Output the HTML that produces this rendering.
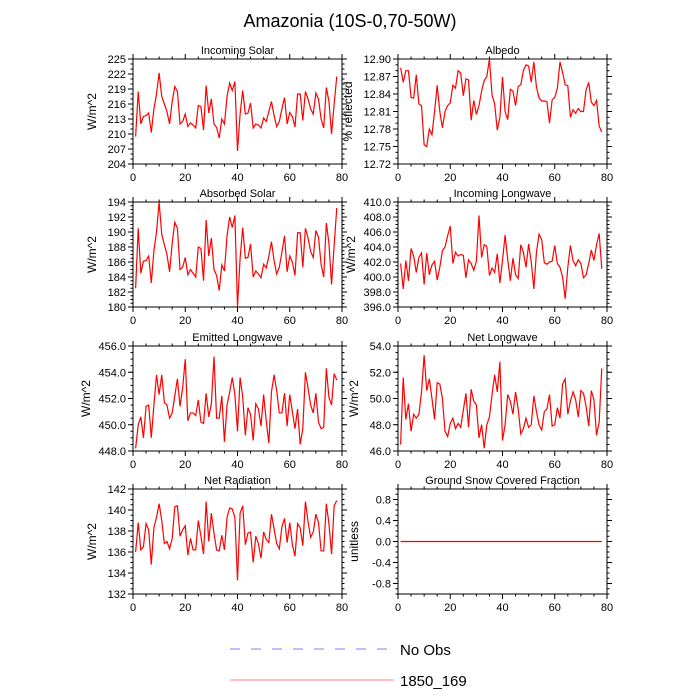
<!DOCTYPE html>
<html><head><meta charset="utf-8"><style>
html,body{margin:0;padding:0;background:#fff;}
svg{display:block;font-family:"Liberation Sans",sans-serif;}
</style></head><body>
<svg id="c" width="700" height="700" viewBox="0 0 700 700" xmlns="http://www.w3.org/2000/svg">
<text x="350" y="27" text-anchor="middle" font-size="18">Amazonia (10S-0,70-50W)</text>
<g id="panels"></g>
<g>
<line x1="230" y1="649" x2="390" y2="649" stroke="#7f7fff" stroke-width="1" stroke-dasharray="10,11"/>
<text x="400" y="655" font-size="15">No Obs</text>
<line x1="230" y1="680" x2="394" y2="680" stroke="#ff7f7f" stroke-width="1"/>
<text x="400" y="686" font-size="15">1850_169</text>
</g>
</svg>
<script>
const incomingSolar=[209.5,218.5,212,213.5,213.7,214.2,210.3,215,218,222.2,217.5,216,214.5,212,216.5,219.5,218.5,212,212.5,214,211.5,212.2,211.8,211.2,215.7,215.5,210.8,219.7,214.2,217,212,211.3,209.2,213,212,217.5,220.2,218.7,220.5,206.6,214,218.7,214,214.2,216.2,211.2,212,211.8,211.2,213.2,212.5,214.5,216.5,213.7,211.5,212.5,215,217.3,212,214.3,213.5,211.4,218,218,212.7,218.5,217,215,214,218.2,217,213,211.2,219.3,216.5,210,216,221.5];
const albedo=[12.885,12.86,12.88,12.88,12.834,12.833,12.873,12.823,12.82,12.753,12.75,12.78,12.77,12.81,12.855,12.81,12.782,12.81,12.82,12.825,12.855,12.85,12.88,12.876,12.837,12.866,12.864,12.795,12.829,12.805,12.82,12.845,12.863,12.87,12.9,12.838,12.823,12.778,12.8,12.869,12.81,12.796,12.848,12.845,12.82,12.853,12.856,12.88,12.89,12.888,12.86,12.895,12.852,12.833,12.828,12.828,12.827,12.79,12.83,12.834,12.85,12.895,12.877,12.856,12.854,12.8,12.813,12.807,12.815,12.81,12.81,12.847,12.86,12.826,12.82,12.829,12.785,12.775];
const absorbedSolar=[182.5,190.5,184.5,186.1,186.2,186.8,183.2,187.5,190,194,189.7,188.3,187,184.7,188.5,191.3,190.5,185,185.3,186.6,184.3,185,184.5,184,188,187.8,183.5,191.6,186.8,189.2,185,184.2,182.2,185.6,184.8,189.5,192,190.6,192.2,180,186.5,190.6,186.5,186.6,188.4,184,184.8,184.4,183.9,185.7,185.2,186.8,188.7,186.2,184.4,185.3,187.3,189.5,184.7,186.8,186,184.2,189.9,189.9,185.3,190.5,189.2,187.4,186.6,190.2,189.3,185.7,184,191.2,188.5,183,188.2,193.2];
const incomingLW=[401.8,398.4,402.2,399.5,403.8,402.8,400.6,402.6,403.2,399,403.2,400.3,401.6,402.1,399.6,401.3,403.5,404,405.5,406.8,401.8,403.3,402.8,403,402.9,399.9,402.3,401.8,400.9,402.1,408.2,402.6,404.3,404.1,400.2,401.2,400.6,403.1,399.2,402.2,405.6,402.3,399.5,402.5,400.3,399.8,404.3,403.3,401.3,404.4,402,398.4,403.3,405.7,405,401.9,401.7,402,402.1,404.2,401.8,401.3,400,397.1,401.3,404.2,402.2,401.5,402.3,401.8,399.9,400.3,401.8,403.6,402.2,404.3,405.8,401.1];
const emittedLW=[448.2,450,450.6,449,451.4,451.5,449,451.5,453.8,452.3,453.8,451.7,451.5,450.5,450.9,452.2,453.5,451.4,452.8,455,450.3,450.9,450.9,450.7,451.9,450.2,450.1,452.4,450.6,451.6,455.2,450.5,450.5,452.2,448.7,451.5,452.5,453.6,452.3,449.5,453.6,452.1,449.2,451.3,450.8,448.8,451.6,451.2,449.9,452.3,450.3,448.6,452.5,453.8,452.6,450.9,450.9,452.4,449.9,452.3,451,449.7,451.2,448.5,449.7,454,452.8,451.5,450.9,452.4,450.2,449.7,449.8,454.3,452.1,451.5,453.9,453.4];
const netLW=[46.5,51.6,48.4,49.6,47.5,48.8,48.5,48.8,50.5,53.3,50.6,51.5,50,48.4,51.2,51.1,50,47.5,47.1,48.1,48.5,47.7,48.1,47.8,49.1,50.4,47.8,50.7,49.8,49.5,47,48,46.2,48,48.6,50.3,51.8,50.5,52.8,46.8,48,50.3,49.8,48.8,50.5,49.2,47.3,47.7,48.5,47.8,48,50.2,49,48,47.6,49,49.2,50.3,47.9,48,49.3,48.5,51.1,51.5,48.8,49.8,50.5,49.9,48.6,50.6,50.4,49.4,47.9,50.6,49.9,47.2,48.2,52.3];
const netRad=[136,138.8,136.2,136.5,138.7,138.1,134.8,138.3,139.3,140.6,139,136.8,137,136.3,137.3,140.3,140.4,137.5,138.1,138.5,135.7,137.3,136.2,136.2,139,137.5,135.8,140.8,137,139.7,137.8,136.2,136.1,137.6,136.2,139.3,140.2,140.1,139.3,133.3,139.7,140.4,136.7,137.8,137.9,135,137.5,136.8,135.4,137.9,137.2,136.9,139.6,138.2,136.8,136.3,138.4,139.2,136.9,138.8,136.7,135.6,138.7,138.3,136.6,140.8,138.9,137.4,137.9,139.6,138.8,136.1,136.1,140.6,138.7,135.8,140.4,140.9];
const snowFrac=[0,0,0,0,0,0,0,0,0,0,0,0,0,0,0,0,0,0,0,0,0,0,0,0,0,0,0,0,0,0,0,0,0,0,0,0,0,0,0,0,0,0,0,0,0,0,0,0,0,0,0,0,0,0,0,0,0,0,0,0,0,0,0,0,0,0,0,0,0,0,0,0,0,0,0,0,0,0];
const xTicks=[0,20,40,60,80];

const NS="http://www.w3.org/2000/svg";
const root=document.getElementById('panels');
function mk(tag,attrs,parent){const e=document.createElementNS(NS,tag);for(const k in attrs)e.setAttribute(k,attrs[k]);parent.appendChild(e);return e;}

const panels=[
 {name:'incoming-solar',title:'Incoming Solar',yl:'W/m^2',yo:37,data:incomingSolar,x0:133,y0:59,ymin:204,ymax:225,step:3,minor:3,dec:0},
 {name:'albedo',title:'Albedo',yl:'% reflected',yo:46,data:albedo,x0:398,y0:59,ymin:12.72,ymax:12.90,step:0.03,minor:3,dec:2},
 {name:'absorbed-solar',title:'Absorbed Solar',yl:'W/m^2',yo:37,data:absorbedSolar,x0:133,y0:202,ymin:180,ymax:194,step:2,minor:4,dec:0},
 {name:'incoming-longwave',title:'Incoming Longwave',yl:'W/m^2',yo:43,data:incomingLW,x0:398,y0:202,ymin:396,ymax:410,step:2,minor:4,dec:1},
 {name:'emitted-longwave',title:'Emitted Longwave',yl:'W/m^2',yo:43,data:emittedLW,x0:133,y0:346,ymin:448,ymax:456,step:2,minor:4,dec:1},
 {name:'net-longwave',title:'Net Longwave',yl:'W/m^2',yo:40,data:netLW,x0:398,y0:346,ymin:46,ymax:54,step:2,minor:4,dec:1},
 {name:'net-radiation',title:'Net Radiation',yl:'W/m^2',yo:37,data:netRad,x0:133,y0:489,ymin:132,ymax:142,step:2,minor:4,dec:0},
 {name:'ground-snow-covered-fraction',title:'Ground Snow Covered Fraction',yl:'unitless',yo:40,data:snowFrac,x0:398,y0:489,ymin:-1,ymax:1,step:0.4,minor:4,dec:1,tick0:-0.8}
];
const W=209,H=105;
panels.forEach(p=>{
 const g=mk('g',{},root);
 
 
 const sx=v=>p.x0+v/80*W;
 const sy=v=>p.y0+H-(v-p.ymin)/(p.ymax-p.ymin)*H;
 const t=mk('text',{x:p.x0+W/2,y:p.y0-5,'text-anchor':'middle','font-size':'11'},g);
 t.textContent=p.title;
 
 
 const yt=mk('text',{x:0,y:0,'text-anchor':'middle','font-size':'12',transform:`translate(${p.x0-p.yo},${p.y0+H/2}) rotate(-90)`},g);
 yt.textContent=p.yl;
 
 
 xTicks.forEach((v,i)=>{
  const x=sx(v);
  mk('line',{x1:x,y1:p.y0+H,x2:x,y2:p.y0+H+5,stroke:'#000'},g);
  mk('line',{x1:x,y1:p.y0,x2:x,y2:p.y0-5,stroke:'#000'},g);
  const l=mk('text',{x:x,y:p.y0+H+17,'text-anchor':'middle','font-size':'11'},g);
  l.textContent=v;
  
  
  if(i<xTicks.length-1){for(let k=1;k<4;k++){const xm=sx(v+k*5);
   mk('line',{x1:xm,y1:p.y0+H,x2:xm,y2:p.y0+H+2.5,stroke:'#000'},g);
   mk('line',{x1:xm,y1:p.y0,x2:xm,y2:p.y0-2.5,stroke:'#000'},g);}}
 });
 const start=p.tick0!==undefined?p.tick0:p.ymin;
 const ms=p.step/p.minor;
 for(let k=0;;k++){const v=p.ymin+k*ms; if(v>p.ymax+1e-9)break; const y=sy(v);
  mk('line',{x1:p.x0,y1:y,x2:p.x0-2.5,y2:y,stroke:'#000'},g);
  mk('line',{x1:p.x0+W,y1:y,x2:p.x0+W+2.5,y2:y,stroke:'#000'},g);}
 for(let v=start;v<=p.ymax+1e-9;v+=p.step){const y=sy(v);
  mk('line',{x1:p.x0,y1:y,x2:p.x0-5,y2:y,stroke:'#000'},g);
  mk('line',{x1:p.x0+W,y1:y,x2:p.x0+W+5,y2:y,stroke:'#000'},g);
  const l=mk('text',{x:p.x0-7,y:y+4,'text-anchor':'end','font-size':'11'},g);
  l.textContent=(Math.abs(v)<1e-9?0:v).toFixed(p.dec);
  
  }
 mk('rect',{x:p.x0,y:p.y0,width:W,height:H,fill:'none',stroke:'#000','stroke-width':'1'},g);
 const d=p.data.map((v,i)=>(i?'L':'M')+sx(i+1).toFixed(2)+' '+sy(v).toFixed(2)).join(' ');
 const pl=mk('path',{d:d,fill:'none',stroke:'#ff0000','stroke-width':'1.2'},g);
 
 
});
</script>
</body></html>
